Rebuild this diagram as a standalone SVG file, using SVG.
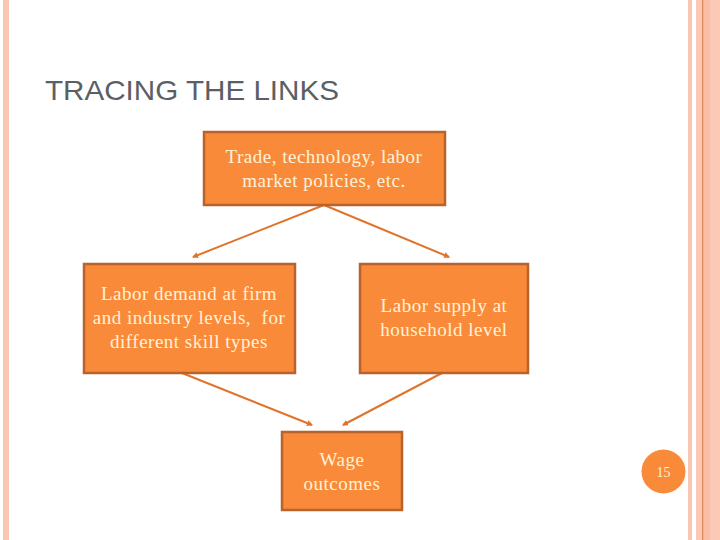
<svg xmlns="http://www.w3.org/2000/svg" width="720" height="540" viewBox="0 0 720 540">
<defs>
<style>
.box{fill:#F98A3A;stroke:#B8622C;stroke-width:2.5}
.lbl{font-family:"Liberation Serif","Times New Roman",serif;font-size:19px;letter-spacing:0.5px;fill:#FFF2D8;text-anchor:middle}
.con{stroke:#E0732C;stroke-width:2;fill:none;marker-end:url(#ah)}
</style>
<marker id="ah" viewBox="0 0 6 6" refX="5" refY="3" markerWidth="3" markerHeight="3" orient="auto" markerUnits="strokeWidth">
<path d="M0,0 L6,3 L0,6 z" fill="#E0732C"/>
</marker>
</defs>
<rect x="0" y="0" width="720" height="540" fill="#FFFFFF"/>
<g id="frame">
<rect x="3" y="0" width="6" height="540" fill="#F9C6B3"/>
<rect x="688" y="0" width="4" height="540" fill="#F9C6B3"/>
<rect x="696" y="0" width="24" height="540" fill="#FBC9B6"/>
<rect x="703" y="0" width="7" height="540" fill="#FBBDA3"/>
<rect x="702" y="0" width="1.3" height="540" fill="#E08A5C"/>
</g>
<text id="title" x="45" y="100" font-family="Liberation Sans, Arial, sans-serif" font-size="28.5" fill="#5A5F66" textLength="294" lengthAdjust="spacingAndGlyphs">TRACING THE LINKS</text>
<g id="connectors">
<line class="con" x1="324" y1="205" x2="193" y2="257"/>
<line class="con" x1="324" y1="205" x2="449" y2="257"/>
<line class="con" x1="182" y1="373" x2="312" y2="425"/>
<line class="con" x1="442" y1="373" x2="343" y2="425"/>
</g>
<g id="node-drivers">
<rect class="box" x="204" y="132" width="241" height="73"/>
<text class="lbl" x="324" y="163">Trade, technology, labor</text>
<text class="lbl" x="324" y="187">market policies, etc.</text>
</g>
<g id="node-demand">
<rect class="box" x="84" y="264" width="211" height="109"/>
<text class="lbl" x="189" y="300">Labor demand at firm</text>
<text class="lbl" x="189" y="324" xml:space="preserve">and industry levels,  for</text>
<text class="lbl" x="189" y="348">different skill types</text>
</g>
<g id="node-supply">
<rect class="box" x="360" y="264" width="168" height="109"/>
<text class="lbl" x="444" y="312">Labor supply at</text>
<text class="lbl" x="444" y="336">household level</text>
</g>
<g id="node-wage">
<rect class="box" x="282" y="432" width="120" height="78"/>
<text class="lbl" x="342" y="466">Wage</text>
<text class="lbl" x="342" y="490">outcomes</text>
</g>
<g id="page-number">
<circle cx="663.5" cy="471.5" r="22" fill="#F98A3A"/>
<text x="663.5" y="476.5" font-family="Liberation Serif, Times New Roman, serif" font-size="14" fill="#FFF2D8" text-anchor="middle">15</text>
</g>
</svg>
